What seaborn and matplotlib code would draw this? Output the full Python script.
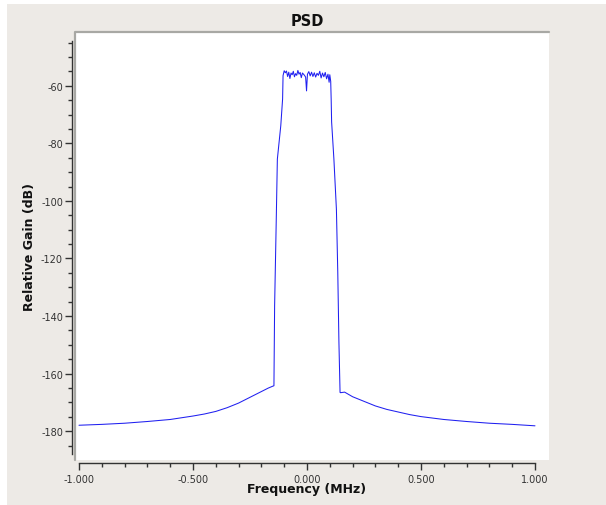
import matplotlib
matplotlib.use("Agg")
import matplotlib.pyplot as plt
from matplotlib.ticker import MultipleLocator, FormatStrFormatter
from matplotlib.patches import Rectangle
from matplotlib.lines import Line2D
import seaborn as sns
import numpy as np

# ---- data ----
floor_left_x = [-1.0, -0.9, -0.8, -0.7, -0.6, -0.5, -0.45, -0.4, -0.35, -0.3, -0.25, -0.2, -0.17, -0.149]
floor_left_y = [-177.9, -177.6, -177.2, -176.6, -175.9, -174.7, -174.0, -173.1, -171.8, -170.2, -168.2, -166.2, -165.0, -164.3]

edge_left_x = [-0.145, -0.142, -0.137, -0.135, -0.130, -0.115, -0.107]
edge_left_y = [-164.2, -136.4, -115.6, -107.3, -85.5, -73.9, -64.6]

top_x = [-0.105, -0.100, -0.095, -0.090, -0.085, -0.080, -0.075, -0.070, -0.065, -0.060,
         -0.055, -0.050, -0.045, -0.040, -0.035, -0.030, -0.025, -0.020, -0.012, -0.006,
         -0.002, 0.002, 0.008, 0.014, 0.020, 0.026, 0.032, 0.038, 0.044, 0.050,
         0.056, 0.062, 0.068, 0.074, 0.080, 0.086, 0.092, 0.097, 0.100, 0.104]
top_y = [-56.5, -54.8, -55.5, -54.9, -56.8, -55.3, -57.5, -55.6, -56.2, -55.0,
         -56.9, -55.8, -56.4, -54.7, -56.0, -55.4, -57.2, -55.6, -56.3, -57.0,
         -61.8, -56.0, -55.1, -56.6, -55.3, -56.8, -55.5, -57.0, -55.7, -56.4,
         -55.0, -57.3, -55.6, -56.9, -55.4, -57.6, -56.0, -58.8, -56.2, -58.5]

edge_right_x = [0.106, 0.108, 0.118, 0.129, 0.135, 0.140, 0.145]
edge_right_y = [-64.6, -72.6, -85.5, -102.9, -124.8, -149.0, -166.5]

floor_right_x = [0.147, 0.165, 0.2, 0.25, 0.3, 0.35, 0.4, 0.45, 0.5, 0.6, 0.7, 0.8, 0.9, 1.0]
floor_right_y = [-166.6, -166.4, -168.0, -169.6, -171.2, -172.4, -173.3, -174.2, -174.9, -175.9, -176.6, -177.2, -177.6, -178.1]

freq = floor_left_x + edge_left_x + top_x + edge_right_x + floor_right_x
psd = floor_left_y + edge_left_y + top_y + edge_right_y + floor_right_y

title = "PSD"
xlabel = "Frequency (MHz)"
ylabel = "Relative Gain (dB)"

# ---- style ----
sns.set_style("ticks")
plt.rcParams["font.family"] = ["DejaVu Sans"]
plt.rcParams["axes.unicode_minus"] = False

W, H = 606, 506
fig = plt.figure(figsize=(W / 100, H / 100), dpi=100, facecolor="white")
fig.patches.append(Rectangle((7 / W, 0), 1 - 7 / W, (H - 5) / H, transform=fig.transFigure,
                             facecolor="#EDEAE6", edgecolor="none", zorder=-10))

ax_left, ax_right, ax_top, ax_bottom = 75, 549, 33, 461
ax = fig.add_axes([ax_left / W, (H - ax_bottom) / H, (ax_right - ax_left) / W, (ax_bottom - ax_top) / H])
ax.set_facecolor("white")

sns.lineplot(x=freq, y=psd, ax=ax, color="#2020f0", linewidth=0.75, sort=False, estimator=None)

ax.set_xlim(-1.0175, 1.0614)
ax.set_ylim(-189.97, -41.35)

for s in ["top", "right"]:
    ax.spines[s].set_visible(False)
ax.spines["left"].set_position(("outward", 2.2))
ax.spines["bottom"].set_position(("outward", 2.0))
ax.spines["left"].set_bounds(-187.9, -44.5)
ax.spines["bottom"].set_bounds(-1.0, 1.0)
for s in ["left", "bottom"]:
    ax.spines[s].set_color("#333333")
    ax.spines[s].set_linewidth(1.0)

# sunken canvas frame (top and left)
ax.add_line(Line2D([0, 0, 1], [0, 1, 1], transform=ax.transAxes, color="#a8a8a4",
                   linewidth=1.6, clip_on=False, zorder=5))

ax.yaxis.set_major_locator(MultipleLocator(20))
ax.yaxis.set_minor_locator(MultipleLocator(5))
ax.xaxis.set_major_locator(MultipleLocator(0.5))
ax.xaxis.set_minor_locator(MultipleLocator(0.1))
ax.xaxis.set_major_formatter(FormatStrFormatter("%.3f"))
ax.yaxis.set_major_formatter(FormatStrFormatter("%d"))

ax.tick_params(axis="both", which="major", direction="out", length=5, width=1,
               color="#333333", labelsize=7, labelcolor="#333333")
ax.tick_params(axis="both", which="minor", direction="out", length=3, width=1, color="#333333")
ax.tick_params(axis="y", which="major", pad=1.5)
ax.tick_params(axis="x", which="major", pad=3)

ax.set_xlabel(xlabel, fontsize=9, fontweight="bold", color="#111111")
ax.set_ylabel(ylabel, fontsize=9, fontweight="bold", color="#111111")
ax.xaxis.set_label_coords((307 - ax_left) / (ax_right - ax_left), -(490 - ax_bottom) / (ax_bottom - ax_top), transform=ax.transAxes)
ax.yaxis.set_label_coords(-(ax_left - 30) / (ax_right - ax_left), 0.5, transform=ax.transAxes)
ax.xaxis.label.set_va("center")
ax.yaxis.label.set_va("center")

fig.text(307 / W, 1 - 22 / H, title, ha="center", va="center", fontsize=10.5, fontweight="bold", color="#111111")

fig.savefig("out.png", dpi=100, facecolor=fig.get_facecolor())
